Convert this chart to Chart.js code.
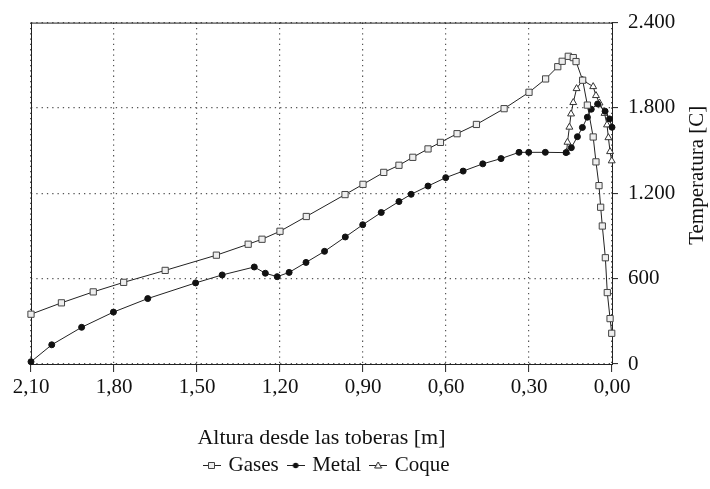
<!DOCTYPE html>
<html>
<head>
<meta charset="utf-8">
<script src="https://cdn.jsdelivr.net/npm/chart.js@4"></script>
<style>
  body { margin: 0; background: #fff; }
</style>
</head>
<body>
<canvas id="perfilChart" width="710" height="489"></canvas>
<script>
// Valores (altura en m, temperatura en C)
const alturaGases = [2.10, 1.99, 1.875, 1.765, 1.615, 1.43, 1.315, 1.265, 1.20, 1.105, 0.965, 0.90, 0.825, 0.77, 0.72, 0.665, 0.62, 0.56, 0.49, 0.39, 0.30, 0.24, 0.196, 0.18, 0.158, 0.14, 0.13, 0.106, 0.089, 0.068, 0.058, 0.047, 0.041, 0.035, 0.024, 0.017, 0.007, 0.001];
const tempGases = [350, 430, 507, 574, 658, 765, 842, 877, 933, 1037, 1191, 1263, 1347, 1397, 1453, 1512, 1558, 1619, 1684, 1795, 1910, 2004, 2090, 2128, 2163, 2154, 2126, 1995, 1820, 1596, 1421, 1254, 1102, 970, 747, 502, 319, 216];

const alturaMetal = [2.10, 2.025, 1.917, 1.802, 1.678, 1.505, 1.409, 1.293, 1.253, 1.21, 1.167, 1.106, 1.039, 0.964, 0.901, 0.834, 0.77, 0.726, 0.665, 0.601, 0.538, 0.467, 0.401, 0.336, 0.301, 0.241, 0.166, 0.147, 0.125, 0.107, 0.089, 0.075, 0.052, 0.025, 0.009, 0.0];
const tempMetal = [16, 135, 258, 365, 460, 570, 626, 682, 638, 614, 644, 714, 792, 893, 979, 1065, 1142, 1193, 1251, 1310, 1356, 1407, 1444, 1488, 1488, 1488, 1486, 1521, 1598, 1663, 1735, 1791, 1828, 1777, 1723, 1664];

const alturaCoque = [0.164, 0.161, 0.154, 0.148, 0.140, 0.128, 0.106, 0.068, 0.058, 0.045, 0.027, 0.018, 0.013, 0.007, 0.001];
const tempCoque = [1490, 1559, 1665, 1758, 1838, 1936, 1995, 1950, 1887, 1835, 1762, 1681, 1591, 1493, 1428];

const series = ["Gases", "Metal", "Coque"];
const ticksX = [2.1, 1.8, 1.5, 1.2, 0.9, 0.6, 0.3, 0.0];
const ticksY = [0, 600, 1200, 1800, 2400];

const fuente = "'Liberation Serif', 'Times New Roman', serif";
Chart.defaults.font.family = fuente;
Chart.defaults.font.size = 21;
Chart.defaults.color = "#111";

function puntos(xs, ys) {
  return xs.map((x, i) => ({ x: x, y: ys[i] }));
}

function miles(v) {
  return String(v).replace(/\B(?=(\d{3})+(?!\d))/g, ".");
}

// simbolo de la leyenda: linea corta con marcador
function simbolo(tipo) {
  const c = document.createElement("canvas");
  c.width = 18;
  c.height = 14;
  const g = c.getContext("2d");
  g.strokeStyle = "#222";
  g.lineWidth = 1;
  g.beginPath();
  g.moveTo(0, 7.5);
  g.lineTo(18, 7.5);
  g.stroke();
  g.beginPath();
  if (tipo === "rect") {
    g.rect(5.5, 4.5, 6, 6);
    g.fillStyle = "#eee";
    g.fill();
    g.strokeStyle = "#444";
    g.stroke();
  } else if (tipo === "circle") {
    g.arc(9, 7.5, 2.8, 0, Math.PI * 2);
    g.fillStyle = "#111";
    g.fill();
  } else {
    g.moveTo(9, 4);
    g.lineTo(12.5, 10);
    g.lineTo(5.5, 10);
    g.closePath();
    g.fillStyle = "#fff";
    g.fill();
    g.stroke();
  }
  return c;
}
const simbolos = [simbolo("rect"), simbolo("circle"), simbolo("triangle")];

// marco del area de trazado, titulo del eje Y y posicion de la leyenda
const marco = {
  id: "marco",
  beforeDatasetsDraw(chart) {
    const a = chart.chartArea;
    const ctx = chart.ctx;
    ctx.save();
    ctx.strokeStyle = "#222";
    ctx.lineWidth = 1;
    ctx.strokeRect(a.left + 0.5, a.top + 0.5, a.right - a.left, a.bottom - a.top);
    ctx.restore();
  },
  afterDraw(chart) {
    const s = chart.scales.y;
    const a = chart.chartArea;
    const ctx = chart.ctx;
    ctx.save();
    ctx.translate(s.right - 13, (a.top + a.bottom) / 2 - 18);
    ctx.rotate(-Math.PI / 2);
    ctx.font = "21px " + fuente;
    ctx.fillStyle = "#111";
    ctx.textAlign = "center";
    ctx.textBaseline = "middle";
    ctx.fillText("Temperatura [C]", 0, 0);
    ctx.restore();
  },
  afterLayout(chart) {
    const l = chart.legend;
    const pad = chart.options.plugins.legend.labels.padding;
    const dx = 206 - (l.left + pad);
    l.left += dx;
    l.right += dx;
  },
};

const ctx = document.getElementById("perfilChart").getContext("2d");
new Chart(ctx, {
  type: "line",
  data: {
    datasets: [
      {
        label: series[0],
        data: puntos(alturaGases, tempGases),
        borderColor: "#222",
        borderWidth: 1,
        pointStyle: "rect",
        pointRadius: 4.4,
        pointBorderColor: "#444",
        pointBackgroundColor: "#eee",
        pointBorderWidth: 1,
        clip: false,
      },
      {
        label: series[1],
        data: puntos(alturaMetal, tempMetal),
        borderColor: "#222",
        borderWidth: 1,
        pointStyle: "circle",
        pointRadius: 3,
        pointBorderColor: "#111",
        pointBackgroundColor: "#111",
        pointBorderWidth: 1,
        clip: false,
      },
      {
        label: series[2],
        data: puntos(alturaCoque, tempCoque),
        borderColor: "#222",
        borderWidth: 1,
        pointStyle: "triangle",
        pointRadius: 4,
        pointBorderColor: "#333",
        pointBackgroundColor: "#fff",
        pointBorderWidth: 1,
        clip: false,
      },
    ],
  },
  options: {
    responsive: false,
    animation: false,
    layout: { padding: { left: 31, top: 18, right: 0, bottom: 3.5 } },
    plugins: {
      tooltip: { enabled: false },
      legend: {
        position: "bottom",
        align: "start",
        labels: {
          usePointStyle: true,
          pointStyleWidth: 12,
          padding: 11,
          font: { size: 21 },
          generateLabels: (chart) =>
            chart.data.datasets.map((ds, i) => ({
              text: ds.label,
              pointStyle: simbolos[i],
              datasetIndex: i,
              fillStyle: "transparent",
              strokeStyle: "transparent",
              lineWidth: 0,
              fontColor: "#111",
              hidden: false,
            })),
        },
      },
    },
    scales: {
      x: {
        type: "linear",
        reverse: true,
        min: 0,
        max: 2.1,
        afterFit: (s) => { s.height = 79.5; },
        afterBuildTicks: (s) => { s.ticks = ticksX.map((v) => ({ value: v })); },
        ticks: {
          padding: 3,
          maxRotation: 0,
          callback: (v) => Number(v).toFixed(2).replace(".", ","),
        },
        grid: {
          color: "#555",
          lineWidth: 1.2,
          tickColor: "#222",
          tickLength: 8,
          tickWidth: 1,
        },
        border: { display: true, color: "#222", width: 1, dash: [1.3, 4] },
        title: {
          display: true,
          text: "Altura desde las toberas [m]",
          font: { size: 22, lineHeight: 0.5 },
          padding: { top: 0, bottom: 0 },
        },
      },
      y: {
        position: "right",
        min: 0,
        max: 2400,
        afterFit: (s) => { s.width = 98; },
        afterBuildTicks: (s) => { s.ticks = ticksY.map((v) => ({ value: v })); },
        ticks: {
          padding: 10,
          callback: (v) => miles(v),
        },
        grid: {
          color: "#555",
          lineWidth: 1.2,
          tickColor: "#222",
          tickLength: 6,
          tickWidth: 1,
        },
        border: { display: true, color: "#222", width: 1, dash: [1.3, 4] },
      },
    },
  },
  plugins: [marco],
});
</script>
</body>
</html>
